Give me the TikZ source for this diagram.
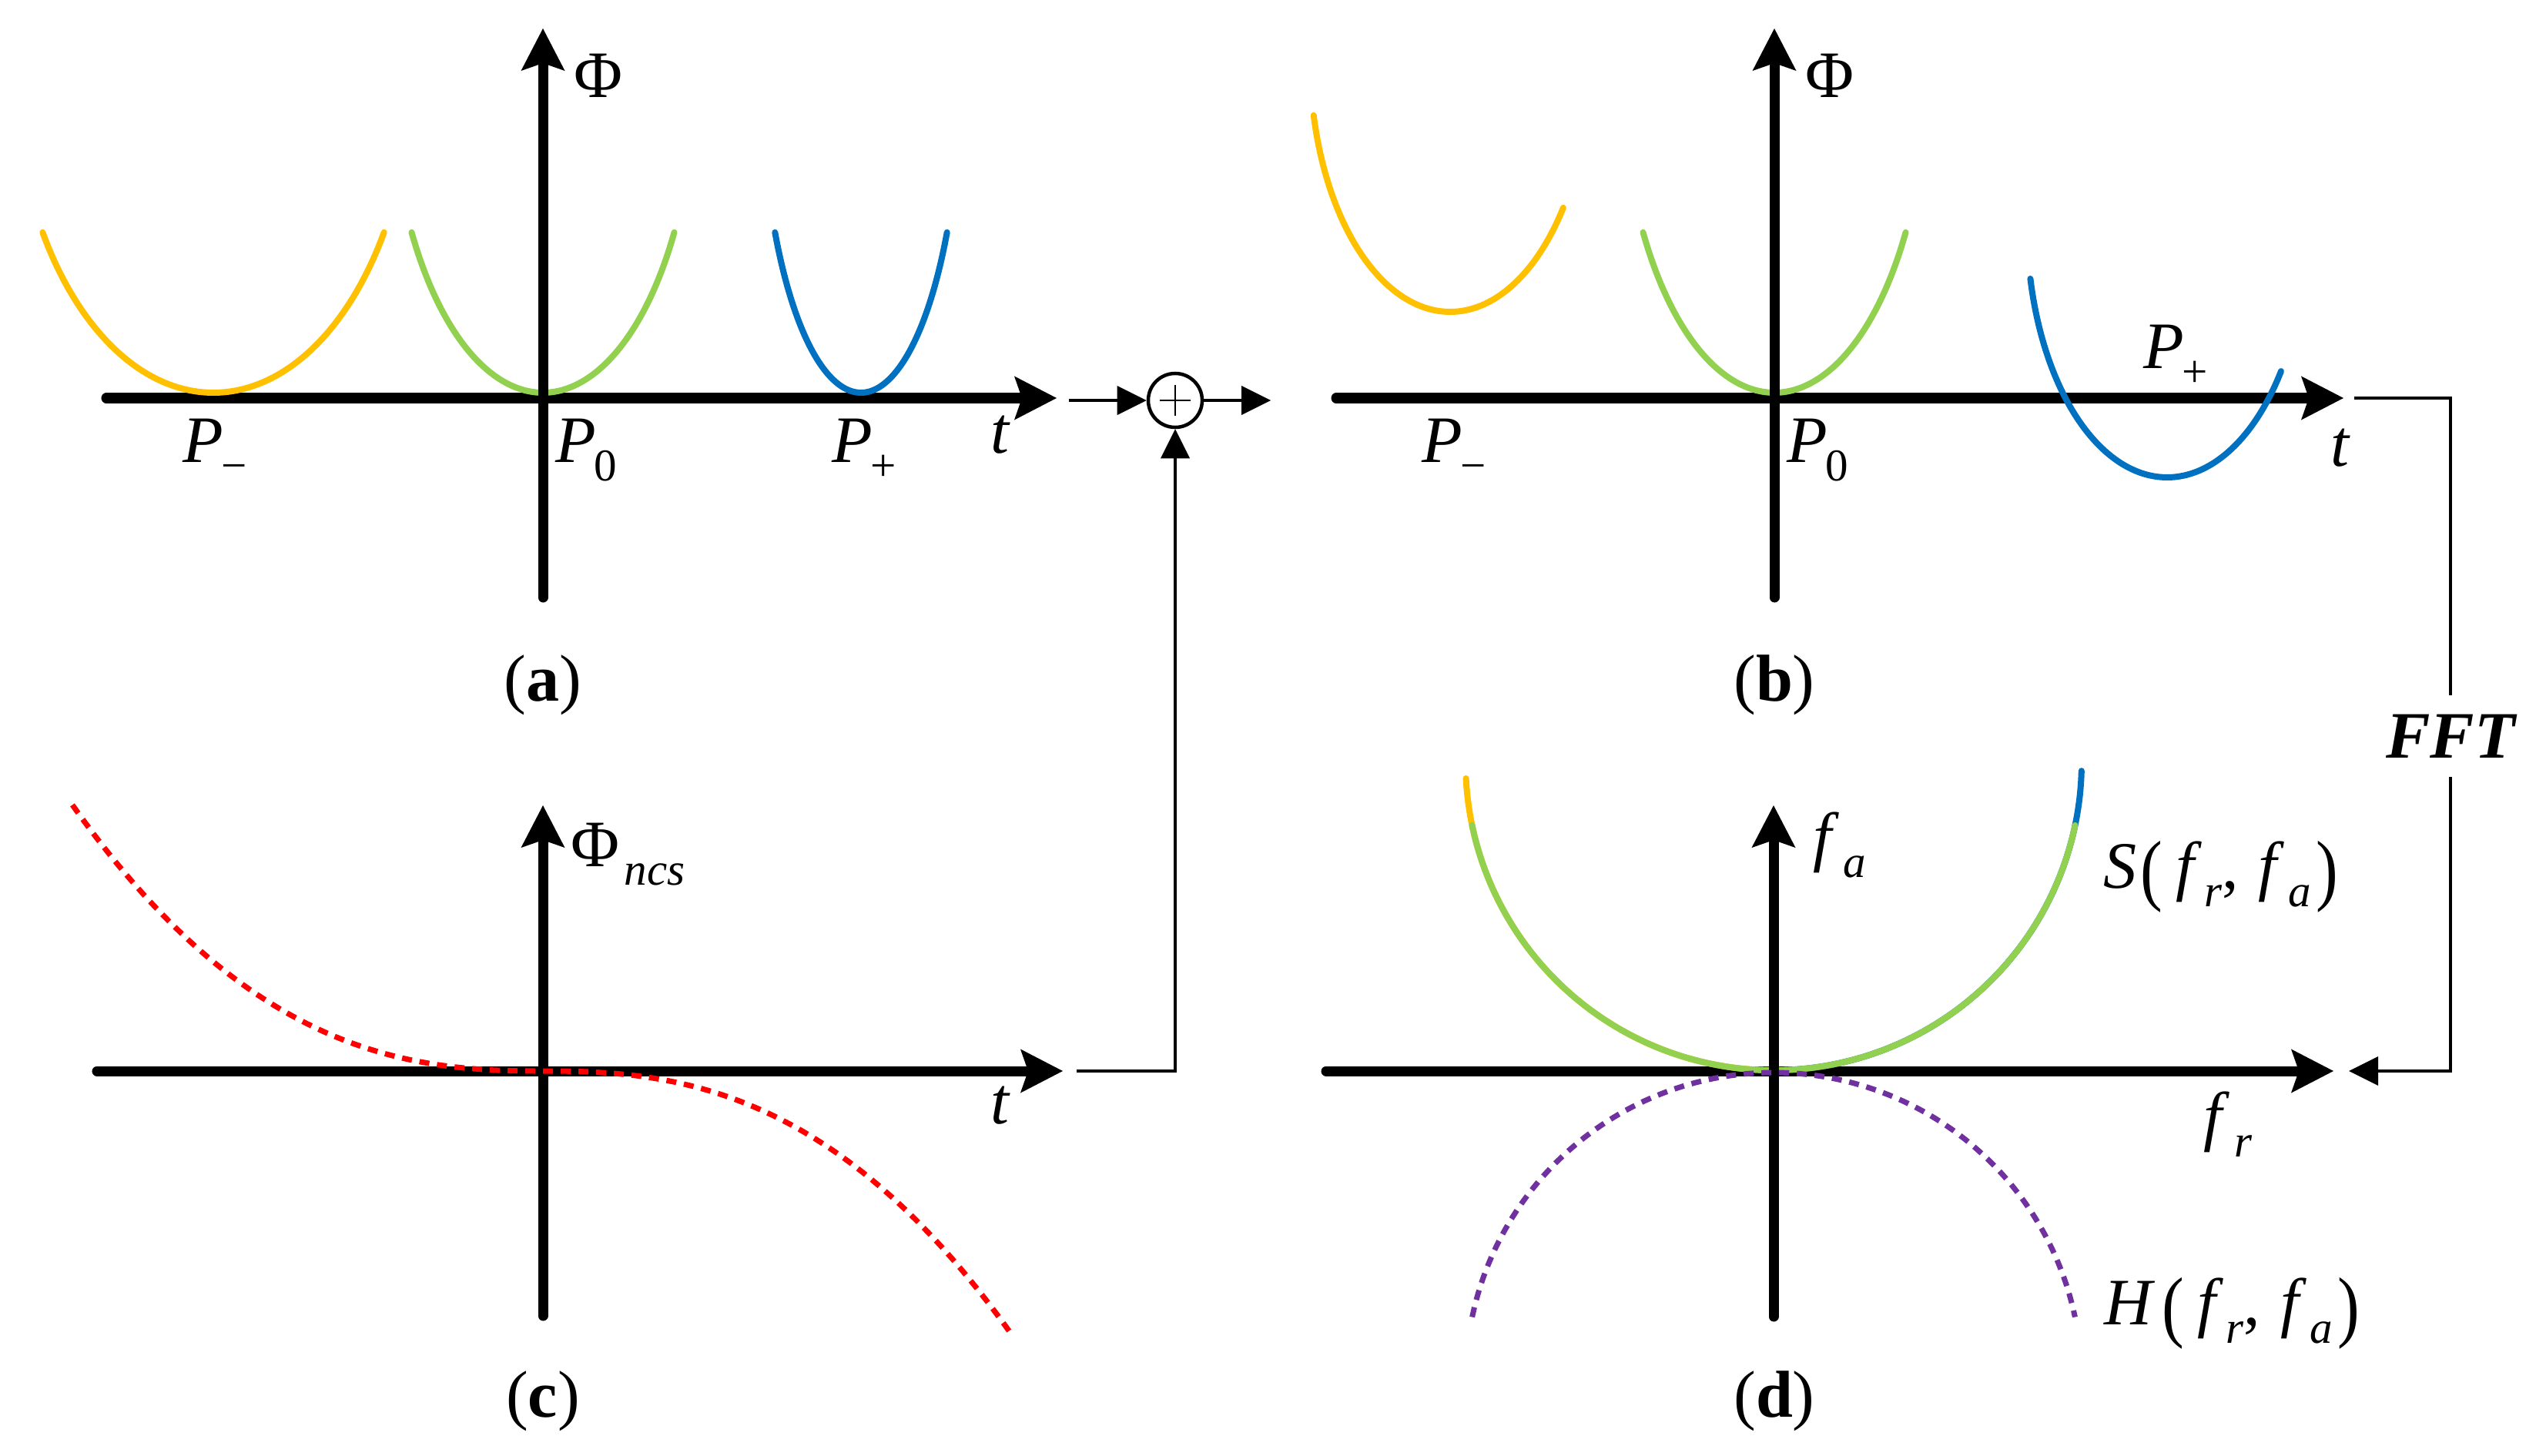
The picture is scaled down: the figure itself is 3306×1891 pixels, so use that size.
\documentclass[tikz,border=0pt]{standalone}
\usepackage{fontspec}
\setmainfont{Liberation Serif}
\usepackage{graphicx}
\usetikzlibrary{arrows.meta}
\definecolor{cyel}{HTML}{FFC000}
\definecolor{cgrn}{HTML}{92D050}
\definecolor{cblu}{HTML}{0070C0}
\definecolor{cred}{HTML}{FF0000}
\definecolor{cpur}{HTML}{7030A0}
\newcommand\mainsz{\fontsize{24.5}{29}\selectfont}
\newcommand\sbs[1]{\raisebox{-0.28em}{\fontsize{16.8}{17}\selectfont #1}}
\newcommand\mylp{\raisebox{-0.12em}{\scalebox{1}[1.19]{(}}}
\newcommand\myrp{\raisebox{-0.12em}{\scalebox{1}[1.19]{)}}}
\newcommand\frfa{\mylp\kern0.2em\textit{f}\kern0.04em\sbs{\textit{r}},\kern0.3em\textit{f}\kern0.05em\sbs{\textit{a}}\kern0.08em\myrp}
\begin{document}
\begin{tikzpicture}[x=0.01cm, y=-0.01cm,
  axisln/.style={line width=0.13cm, line cap=round, -{Stealth[length=0.55cm, width=0.57cm, inset=0.1cm, line width=0pt]}},
  curve/.style={line width=0.08cm, line cap=round},
  dcurve/.style={line width=0.07cm, dash pattern=on 0.13cm off 0.1cm},
  conn/.style={line width=0.04cm},
  carrow/.style={conn, -{Triangle[length=0.38cm, width=0.38cm, line width=0pt]}},
  lab/.style={inner sep=0pt, font=\mainsz, anchor=base west},
  plab/.style={inner sep=0pt, font=\mainsz, anchor=base}]
\useasboundingbox (0,0) rectangle (3306,1891);
% axis coordinates
\coordinate (aL) at (138,517);  \coordinate (aR) at (1372,517);
\coordinate (aB) at (705,776);  \coordinate (aT) at (705,37);
\coordinate (bL) at (1735,517); \coordinate (bR) at (3043,517);
\coordinate (bB) at (2304,776); \coordinate (bT) at (2304,37);
\coordinate (cL) at (126,1391); \coordinate (cR) at (1380,1391);
\coordinate (cB) at (705,1709); \coordinate (cT) at (705,1046);
\coordinate (dL) at (1722,1391); \coordinate (dR) at (3030,1391);
\coordinate (dB) at (2303,1710); \coordinate (dT) at (2303,1046);
% horizontal axes
\draw[axisln] (aL) -- (aR);
\draw[axisln] (bL) -- (bR);
\draw[axisln] (cL) -- (cR);
\draw[axisln] (dL) -- (dR);
% (a) curves
\draw[curve, cyel] plot[domain=31.5:148.5, samples=60, smooth] ({277+260*cos(\x)},{74+436*sin(\x)});
\draw[curve, cgrn] plot[domain=31.5:148.5, samples=60, smooth] ({705+200*cos(\x)},{74+436*sin(\x)});
\draw[curve, cblu] plot[domain=31.5:148.5, samples=60, smooth] ({1118+131*cos(\x)},{74+436*sin(\x)});
% (b) curves
\draw[curve, cyel] plot[domain=36.2:166.9, samples=60, smooth] ({1883+182*cos(\x)},{75+330*sin(\x)});
\draw[curve, cgrn] plot[domain=31.5:148.5, samples=60, smooth] ({2304+200*cos(\x)},{74+436*sin(\x)});
\draw[curve, cblu] plot[domain=35.6:167.4, samples=60, smooth] ({2814+182*cos(\x)},{290+330*sin(\x)});
% (d) S curve
\draw[curve, cyel] plot[domain=90:177, samples=50, smooth] ({2303+400*cos(\x)},{990+400*sin(\x)});
\draw[curve, cblu] plot[domain=1.6:90, samples=50, smooth] ({2303+400*cos(\x)},{990+400*sin(\x)});
\draw[curve, cgrn] plot[domain=11.8:168.2, samples=80, smooth] ({2303+400*cos(\x)},{990+400*sin(\x)});
% vertical axes
\draw[axisln] (aB) -- (aT);
\draw[axisln] (bB) -- (bT);
\draw[axisln] (cB) -- (cT);
\draw[axisln] (dB) -- (dT);
% dashed curves
\draw[dcurve, cred] plot[domain=-611:607, samples=82, smooth] ({705+\x},{1391+340*sign(\x)*(abs(\x)/607)^2.5});
\draw[dcurve, cpur] plot[domain=191.9:348.1, samples=80, smooth] ({2303+400*cos(\x)},{1793+400*sin(\x)});
% labels (a)
\node[lab] (phiA) at (745,127) {Φ};
\node[lab] (pmA) at (237,600) {\textit{P}\kern-0.03em\sbs{−}};
\node[lab] (p0A) at (721,600) {\textit{P}\kern-0.03em\sbs{0}};
\node[lab] (ppA) at (1080,600) {\textit{P}\kern-0.03em\sbs{+}};
\node[lab] (tA) at (1286,588) {\textit{t}};
% labels (b)
\node[lab] (phiB) at (2344,127) {Φ};
\node[lab] (pmB) at (1846,600) {\textit{P}\kern-0.03em\sbs{−}};
\node[lab] (p0B) at (2320,600) {\textit{P}\kern-0.03em\sbs{0}};
\node[lab] (ppB) at (2783,478) {\textit{P}\kern-0.03em\sbs{+}};
\node[lab] (tB) at (3026,605) {\textit{t}};
% labels (c)
\node[lab] (phiC) at (741,1125) {Φ\kern0.07em\sbs{\textit{ncs}}};
\node[lab] (tC) at (1286,1459) {\textit{t}};
% labels (d)
\node[lab] (faD) at (2354,1115) {\textit{f}\kern0.06em\sbs{\textit{a}}};
\node[lab] (frD) at (2861,1478) {\textit{f}\kern0.07em\sbs{\textit{r}}};
\node[lab] (sD) at (2731,1153) {\textit{S}\kern0.05em\frfa};
\node[lab] (hD) at (2732,1720) {\textit{H}\kern0.1em\frfa};
% panel labels
\node[plab] (la) at (705,910) {(\textbf{a})};
\node[plab] (lb) at (2304,910) {(\textbf{b})};
\node[plab] (lc) at (705,1840) {(\textbf{c})};
\node[plab] (ld) at (2304,1840) {(\textbf{d})};
% summation and connectors
\node[circle, draw, line width=0.045cm, minimum size=0.7cm, inner sep=0pt] (sum) at (1526,520) {};
\draw[line width=0.02cm] ([xshift=-0.2cm]sum.center) -- ([xshift=0.2cm]sum.center);
\draw[line width=0.02cm] ([yshift=-0.2cm]sum.center) -- ([yshift=0.2cm]sum.center);
\coordinate (aOut) at (1388,520);
\coordinate (sumOut) at (1650,520);
\coordinate (cOut) at (1398,1391);
\draw[carrow] (aOut) -- (sum.west);
\draw[carrow] (sum.east) -- (sumOut);
\draw[carrow] (cOut) -| (sum.south);
\node[font=\mainsz\bfseries\itshape, inner sep=0.24cm] (fft) at (3182,956) {FFT};
\coordinate (bOut) at (3057,517);
\coordinate (dIn) at (3050,1391);
\draw[conn] (bOut) -| (fft.north);
\draw[carrow] (fft.south) |- (dIn);
\end{tikzpicture}
\end{document}
